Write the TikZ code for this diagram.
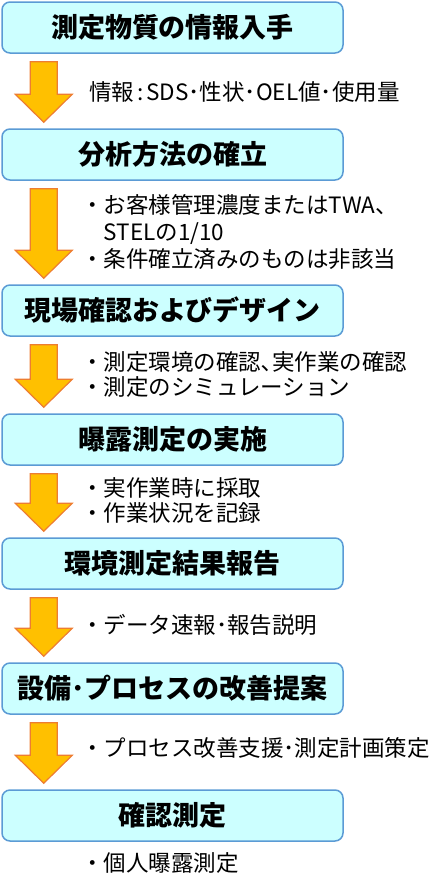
\documentclass[tikz,border=0pt]{standalone}
\usepackage{fontspec}
\usepackage{xcolor}
\usepackage{tikz}
\usetikzlibrary{calc}

\newfontfamily\jp{Noto Sans CJK JP}
\definecolor{boxfill}{HTML}{CCFFFF}
\definecolor{boxline}{HTML}{5B9BD5}
\definecolor{arrowfill}{HTML}{FFC000}
\definecolor{arrowline}{HTML}{ED7D31}

\tikzset{
  stage/.style={draw=boxline, fill=boxfill, line width=1.5pt, rounded corners=8pt,
    minimum width=341pt, minimum height=51pt, inner sep=0pt,
    font=\jp\bfseries\fontsize{27}{31}\selectfont},
  note/.style={anchor=west, align=left, inner sep=0pt,
    font=\jp\fontsize{22.5}{25}\selectfont},
  barrow/.style={draw=arrowline, fill=arrowfill, line width=1.2pt}
}

% block arrow from the bottom of one stage to the top of the next
\newcommand{\stagearrow}[2]{%
  \draw[barrow] let \p1=(#1.south west), \p2=(#2.north west) in
    (\x1+29pt,\y1-8pt) -- (\x1+56pt,\y1-8pt) -- (\x1+56pt,\y2+34pt)
    -- (\x1+71pt,\y2+34pt) -- (\x1+42.5pt,\y2+6pt) -- (\x1+14pt,\y2+34pt)
    -- (\x1+29pt,\y2+34pt) -- cycle;}

\begin{document}
\begin{tikzpicture}[x=1pt,y=-1pt]
		\useasboundingbox (0,0) rectangle (441,892);
		
		\foreach \i/\y/\t in {1/27.5/測定物質の情報入手, 2/154.5/分析方法の確立,
			3/310.5/現場確認およびデザイン, 4/439.5/曝露測定の実施,
			5/563.5/環境測定結果報告, 6/688.5/設備･プロセスの改善提案,
			7/815.5/確認測定}{
			\node[stage] (b\i) at (172.5,\y) {\t};
		}
		
		\foreach \i/\j in {1/2,2/3,3/4,4/5,5/6,6/7}{
			\stagearrow{b\i}{b\j}
		}
		
		\node[note] (n1) at (89,92) {情報\hspace{3pt}:\hspace{3pt}SDS･性状･OEL値･使用量};
		\node[note, font=\jp\fontsize{22.5}{27}\selectfont] (n2) at (81,232)
			{・お客様管理濃度またはTWA、\\\hspace{1em}STELの1/10\\・条件確立済みのものは非該当};
		\node[note] (n3) at (81,374.5) {・測定環境の確認､実作業の確認\\・測定のシミュレーション};
		\node[note] (n4) at (81,500.5) {・実作業時に採取\\・作業状況を記録};
		\node[note] (n5) at (81,625) {・データ速報･報告説明};
		\node[note] (n6) at (81,748) {・プロセス改善支援･測定計画策定};
		\node[note] (n7) at (81,863) {・個人曝露測定};
	\end{tikzpicture}
\end{document}
